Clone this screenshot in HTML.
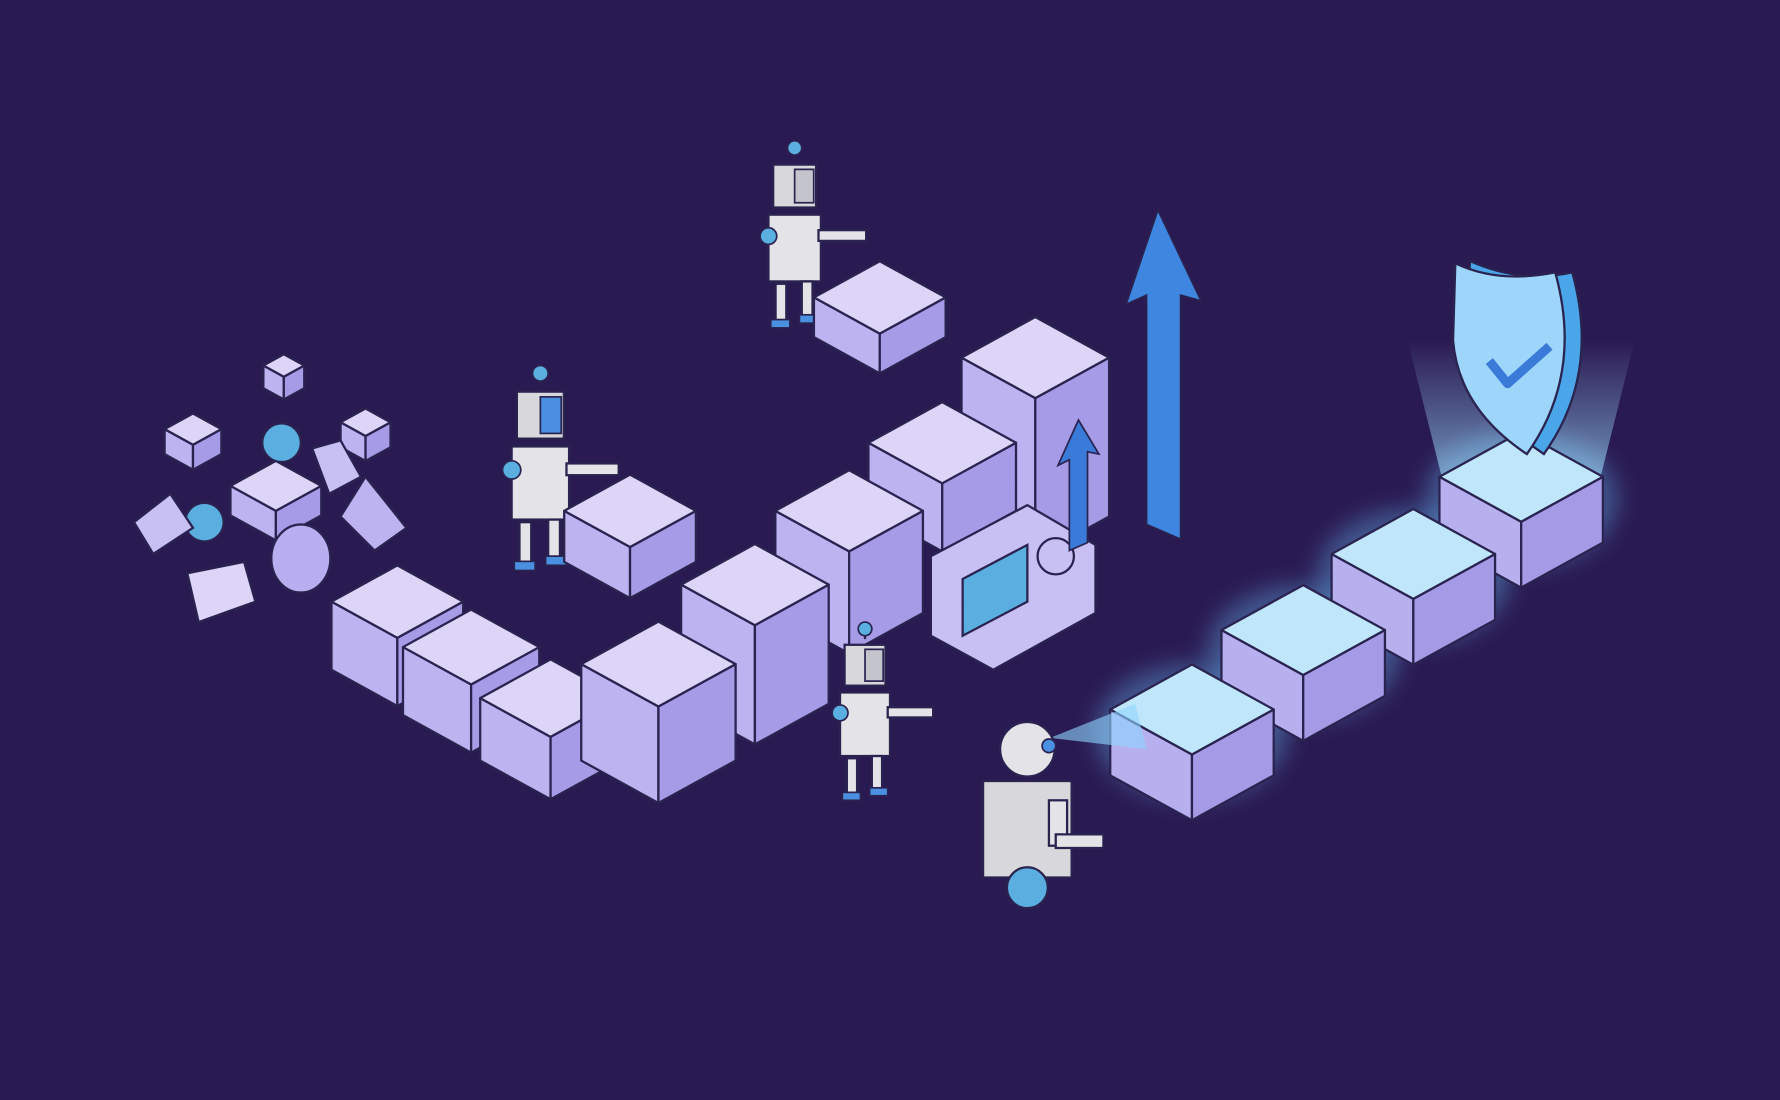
<!DOCTYPE html>
<html><head><meta charset="utf-8"><style>
html,body{margin:0;padding:0;background:#2a1a52;width:1780px;height:1100px;overflow:hidden}
svg{display:block}
</style></head><body>
<svg id="s" width="1780" height="1100" viewBox="0 0 1568 969" xmlns="http://www.w3.org/2000/svg">
<defs>
<filter id="glow" x="-50%" y="-50%" width="200%" height="200%"><feGaussianBlur stdDeviation="10"/></filter>
<linearGradient id="beam" x1="0" y1="1" x2="0" y2="0"><stop offset="0" stop-color="#9fe0ff" stop-opacity="0.6"/><stop offset="1" stop-color="#9fe0ff" stop-opacity="0"/></linearGradient>
</defs>
<rect width="1568" height="969" fill="#2a1a52"/>
<g id="g"></g>
</svg>
<script>
var g=document.getElementById('g'),out='';
var S='#2a2350';
function cube(cx,cy,w,h,t,l,r){
 t=t||'#dcd5f7';l=l||'#bdb3f0';r=r||'#a69be6';
 var d=w*0.55;
 var T=[cx,cy-d],R=[cx+w,cy],B=[cx,cy+d],L=[cx-w,cy];
 out+='<polygon points="'+L+' '+B+' '+[B[0],B[1]+h]+' '+[L[0],L[1]+h]+'" fill="'+l+'" stroke="'+S+'" stroke-width="2" stroke-linejoin="round"/>';
 out+='<polygon points="'+B+' '+R+' '+[R[0],R[1]+h]+' '+[B[0],B[1]+h]+'" fill="'+r+'" stroke="'+S+'" stroke-width="2" stroke-linejoin="round"/>';
 out+='<polygon points="'+T+' '+R+' '+B+' '+L+'" fill="'+t+'" stroke="'+S+'" stroke-width="2" stroke-linejoin="round"/>';
}
function robot(x,y,s,headBlue){
 out+='<line x1="'+x+'" y1="'+(y-5)+'" x2="'+x+'" y2="'+(y-12*s)+'" stroke="'+S+'" stroke-width="2"/>';
 out+='<circle cx="'+x+'" cy="'+(y-14*s)+'" r="'+6*s+'" fill="#5aaee0" stroke="'+S+'" stroke-width="1.5"/>';
 out+='<rect x="'+(x-18*s)+'" y="'+y+'" width="'+36*s+'" height="'+36*s+'" fill="#d8d8dc" stroke="'+S+'" stroke-width="2"/>';
 out+='<rect x="'+(x)+'" y="'+(y+4*s)+'" width="'+16*s+'" height="'+28*s+'" fill="'+(headBlue?'#4a8fe0':'#c4c4cc')+'" stroke="'+S+'" stroke-width="1.5"/>';
 out+='<rect x="'+(x-22*s)+'" y="'+(y+42*s)+'" width="'+44*s+'" height="'+56*s+'" fill="#e4e4e8" stroke="'+S+'" stroke-width="2"/>';
 out+='<rect x="'+(x-16*s)+'" y="'+(y+100*s)+'" width="'+9*s+'" height="'+32*s+'" fill="#e4e4e8" stroke="'+S+'" stroke-width="2"/>';
 out+='<rect x="'+(x+6*s)+'" y="'+(y+98*s)+'" width="'+9*s+'" height="'+30*s+'" fill="#e4e4e8" stroke="'+S+'" stroke-width="2"/>';
 out+='<rect x="'+(x-20*s)+'" y="'+(y+130*s)+'" width="'+16*s+'" height="'+7*s+'" fill="#4a8fe0" stroke="'+S+'" stroke-width="1.5"/>';
 out+='<rect x="'+(x+4*s)+'" y="'+(y+126*s)+'" width="'+16*s+'" height="'+7*s+'" fill="#4a8fe0" stroke="'+S+'" stroke-width="1.5"/>';
 out+='<rect x="'+(x+20*s)+'" y="'+(y+55*s)+'" width="'+40*s+'" height="'+9*s+'" fill="#e4e4e8" stroke="'+S+'" stroke-width="2"/>';
 out+='<circle cx="'+(x-22*s)+'" cy="'+(y+60*s)+'" r="'+7*s+'" fill="#5aaee0" stroke="'+S+'" stroke-width="1.5"/>';
}
cube(250,322,18,20);
cube(170,378,25,22);
cube(243,428,40,26);
cube(322,372,22,22);
out+='<circle cx="248" cy="390" r="17" fill="#5aaee0" stroke="'+S+'" stroke-width="2"/>';
out+='<circle cx="180" cy="460" r="17" fill="#5aaee0" stroke="'+S+'" stroke-width="2"/>';
out+='<ellipse cx="265" cy="492" rx="26" ry="30" fill="#b8aef0" stroke="'+S+'" stroke-width="2"/>';
out+='<polygon points="322,420 358,465 330,485 300,455" fill="#bdb3f0" stroke="'+S+'" stroke-width="2"/>';
out+='<polygon points="118,460 150,435 170,465 135,488" fill="#c8c0f3" stroke="'+S+'" stroke-width="2"/>';
out+='<polygon points="165,505 215,495 225,530 175,548" fill="#dcd5f7" stroke="'+S+'" stroke-width="2"/>';
out+='<polygon points="275,395 300,388 318,420 290,435" fill="#c8c0f3" stroke="'+S+'" stroke-width="2"/>';
robot(700,145,1.05,false);
cube(775,262,58,35);
cube(912,315,65,140);
cube(830,390,65,60);
out+='<polygon points="820,490 905,445 965,480 965,540 875,590 820,560" fill="#c8c0f3" stroke="'+S+'" stroke-width="2"/>';
out+='<polygon points="848,510 905,480 905,530 848,560" fill="#5aaee0" stroke="'+S+'" stroke-width="2"/>';
out+='<circle cx="930" cy="490" r="16" fill="#c8c0f3" stroke="'+S+'" stroke-width="2"/>';
out+='<polygon points="942,485 942,405 932,410 950,370 968,400 958,398 958,478" fill="#3a7ad8" stroke="'+S+'" stroke-width="1.5"/>';
cube(748,450,65,90);
cube(665,515,65,105);
cube(350,530,58,60);
cube(415,570,60,60);
cube(485,615,62,55);
robot(476,345,1.15,true);
cube(555,450,58,45);
cube(580,585,68,85);
robot(762,568,1.0,false);
out+='<polygon points="1010,462 1010,260 992,268 1020,185 1058,265 1040,260 1040,475" fill="#3f86e0" stroke="'+S+'" stroke-width="1.5"/>';
var gb=[[1050,625],[1148,555],[1245,488],[1340,420]];
gb.forEach(function(p){out+='<ellipse cx="'+p[0]+'" cy="'+(p[1]+20)+'" rx="85" ry="60" fill="#6ec8ff" opacity="0.35" filter="url(#glow)"/>';});
out+='<polygon points="1240,300 1440,300 1410,420 1270,420" fill="url(#beam)"/>';
gb.slice().reverse().forEach(function(p){cube(p[0],p[1],72,58,'#bfe6fb','#b7b0ef','#a59ae6');});
out+='<path d="M1295,230 Q1340,250 1385,240 Q1410,330 1360,400 Q1300,360 1290,300 Z" fill="#4aa6e8" stroke="'+S+'" stroke-width="2"/>';
out+='<path d="M1282,232 Q1320,250 1370,240 Q1395,330 1345,400 Q1285,360 1280,300 Z" fill="#9ed6fb" stroke="'+S+'" stroke-width="2"/>';
out+='<polyline points="1312,318 1328,338 1365,305" fill="none" stroke="#3a7ad8" stroke-width="8" stroke-linejoin="round"/>';
out+='<polygon points="925,650 1000,620 1010,660" fill="#8fd6ff" opacity="0.6"/>';
out+='<circle cx="905" cy="660" r="24" fill="#e4e4e8" stroke="'+S+'" stroke-width="2"/>';
out+='<circle cx="924" cy="657" r="6" fill="#4a8fe0" stroke="'+S+'" stroke-width="1.5"/>';
out+='<rect x="866" y="688" width="78" height="85" fill="#d8d8dc" stroke="'+S+'" stroke-width="2"/>';
out+='<circle cx="905" cy="782" r="18" fill="#5aaee0" stroke="'+S+'" stroke-width="2"/>';
out+='<rect x="924" y="705" width="16" height="40" fill="#e4e4e8" stroke="'+S+'" stroke-width="2"/>';
out+='<rect x="930" y="735" width="42" height="12" fill="#e4e4e8" stroke="'+S+'" stroke-width="2"/>';
g.innerHTML=out;
</script>
</body></html>
